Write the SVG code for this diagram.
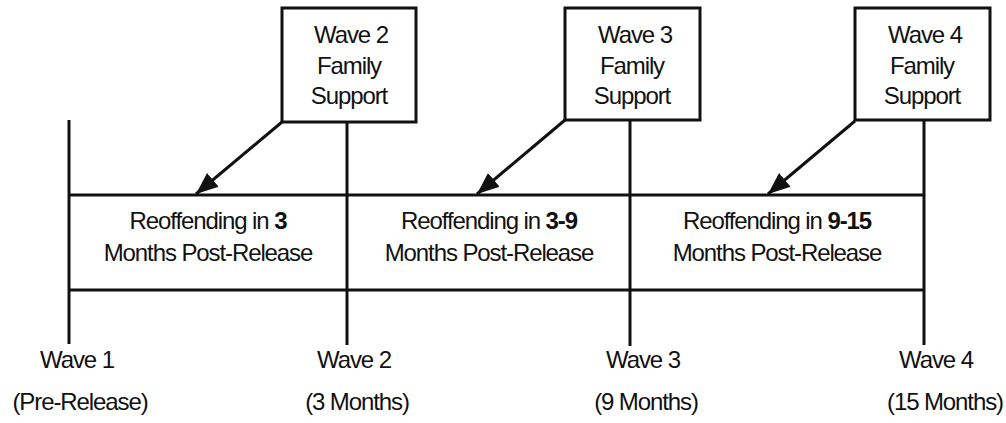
<svg xmlns="http://www.w3.org/2000/svg" width="1006" height="423" viewBox="0 0 1006 423">
<style>
text{font-family:"Liberation Sans",Arial,sans-serif;font-size:24px;letter-spacing:-1.1px;fill:#111;text-anchor:middle}
.b{font-weight:bold}
.ln{stroke:#111;stroke-width:3;fill:none}
.box{stroke:#111;stroke-width:3;fill:#fff}
</style>
<defs>
<marker id="ah" markerUnits="userSpaceOnUse" markerWidth="24" markerHeight="20" refX="22" refY="10" orient="auto">
<path d="M0,1 L22,10 L0,19 Z" fill="#111"/>
</marker>
</defs>
<g id="timeline">
<line class="ln" x1="69" y1="120" x2="69" y2="344"/>
<line class="ln" x1="347" y1="122" x2="347" y2="345"/>
<line class="ln" x1="630" y1="120" x2="630" y2="346"/>
<line class="ln" x1="924" y1="120" x2="924" y2="345"/>
<line class="ln" x1="69" y1="195" x2="924" y2="195"/>
<line class="ln" x1="69" y1="290" x2="924" y2="290"/>
</g>
<g id="period1">
<text x="208" y="229">Reoffending in <tspan class="b">3</tspan></text>
<text x="208" y="261">Months Post-Release</text>
</g>
<g id="period2">
<text x="489" y="229">Reoffending in <tspan class="b">3-9</tspan></text>
<text x="489" y="261">Months Post-Release</text>
</g>
<g id="period3">
<text x="777" y="229">Reoffending in <tspan class="b">9-15</tspan></text>
<text x="777" y="261">Months Post-Release</text>
</g>
<g id="fs2">
<rect class="box" x="282" y="8" width="134" height="114"/>
<text x="351" y="43">Wave 2</text>
<text x="349" y="74">Family</text>
<text x="349" y="104">Support</text>
</g>
<g id="fs3">
<rect class="box" x="565" y="8" width="135" height="112"/>
<text x="635" y="43">Wave 3</text>
<text x="632" y="74">Family</text>
<text x="632" y="104">Support</text>
</g>
<g id="fs4">
<rect class="box" x="855" y="8" width="135" height="112"/>
<text x="925" y="43">Wave 4</text>
<text x="922" y="74">Family</text>
<text x="922" y="104">Support</text>
</g>
<g id="connectors">
<line class="ln" x1="282" y1="122" x2="196" y2="194" marker-end="url(#ah)"/>
<line class="ln" x1="565" y1="120" x2="477" y2="194" marker-end="url(#ah)"/>
<line class="ln" x1="855" y1="121" x2="768" y2="194" marker-end="url(#ah)"/>
</g>
<g id="w1"><text x="77" y="368">Wave 1</text><text x="80" y="410">(Pre-Release)</text></g>
<g id="w2"><text x="354" y="368">Wave 2</text><text x="357" y="410">(3 Months)</text></g>
<g id="w3"><text x="643" y="368">Wave 3</text><text x="646" y="410">(9 Months)</text></g>
<g id="w4"><text x="936" y="368">Wave 4</text><text x="945" y="410">(15 Months)</text></g>
</svg>
